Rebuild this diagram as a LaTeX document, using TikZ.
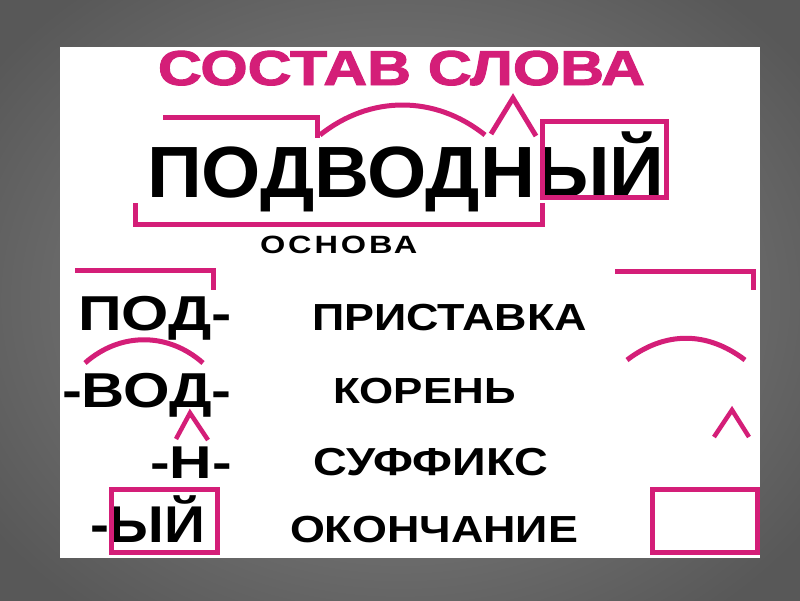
\documentclass[tikz,border=0pt]{standalone}
\usepackage{fontspec}
\setmainfont{Liberation Sans}
\definecolor{mag}{RGB}{212,30,120}
\definecolor{bgin}{RGB}{140,140,140}
\definecolor{bgout}{RGB}{88,88,88}
\newcommand{\wtxt}[3]{\scalebox{#2}[1]{\fontsize{#1}{#1}\selectfont\bfseries #3}}
\begin{document}
\begin{tikzpicture}[x=1pt,y=-1pt,
  lbl/.style={anchor=base west,inner sep=0pt,outer sep=0pt},
  mline/.style={draw=mag,line width=5pt,line join=miter},
  mthin/.style={draw=mag,line width=4.5pt,line join=miter}]
\useasboundingbox (0,0) rectangle (800,600);
\shade[inner color=bgin,outer color=bgout] (-100,-100) rectangle (900,700);
\fill[white] (60,47) rectangle (760,558);
% title and main word
\node[lbl,text=mag] (title) at (158,85) {\wtxt{49}{1.24}{\addfontfeature{FakeBold=2}СОСТАВ СЛОВА}};
\node[lbl] (word) at (147,197) {\wtxt{72.6}{1.05}{ПОДВОДНЫЙ}};
\node[lbl] (osnova) at (260,253) {\wtxt{25}{1.3}{\addfontfeature{LetterSpace=9}ОСНОВА}};
% morphemes
\node[lbl] (pod) at (78,330) {\wtxt{49}{1.24}{ПОД-}};
\node[lbl] (vod) at (62,407) {\wtxt{49}{1.22}{-ВОД-}};
\node[lbl] (n) at (150,478) {\wtxt{46}{1.28}{-Н-}};
\node[lbl] (yj) at (90,542) {\wtxt{51.7}{1.1}{-ЫЙ}};
% names
\node[lbl] (pristavka) at (312,330) {\wtxt{37.7}{1.19}{ПРИСТАВКА}};
\node[lbl] (koren) at (333,403) {\wtxt{36.3}{1.21}{КОРЕНЬ}};
\node[lbl] (suffiks) at (313,475) {\wtxt{39}{1.2}{СУФФИКС}};
\node[lbl] (okonchanie) at (290,542) {\wtxt{37.7}{1.19}{ОКОНЧАНИЕ}};
% marks on the main word
\draw[mline] (163,117) -- (317,117) -- (317,138);
\draw[mline] (320,135) .. controls (370,95) and (435,95) .. (485,135);
\draw[mline] (491,134) -- (513,98) -- (536,136);
\draw[mline] (542,121) rectangle (666,197);
\draw[mline] (135,203) -- (135,224) -- (542,224) -- (542,203);
% marks on the morphemes
\draw[mline] (75,270) -- (213,270) -- (213,290);
\draw[mline] (85,363) .. controls (120,332) and (168,332) .. (203,363);
\draw[mthin] (176,439) -- (190,413) -- (208,440);
\draw[mline] (111,489) rectangle (217,552);
% legend marks
\draw[mline] (615,271) -- (753,271) -- (753,290);
\draw[mline] (627,360) .. controls (665,331) and (707,331) .. (745,360);
\draw[mthin] (714,437) -- (732,410) -- (749,437);
\draw[mline] (652,489) rectangle (757,552);
\end{tikzpicture}
\end{document}
